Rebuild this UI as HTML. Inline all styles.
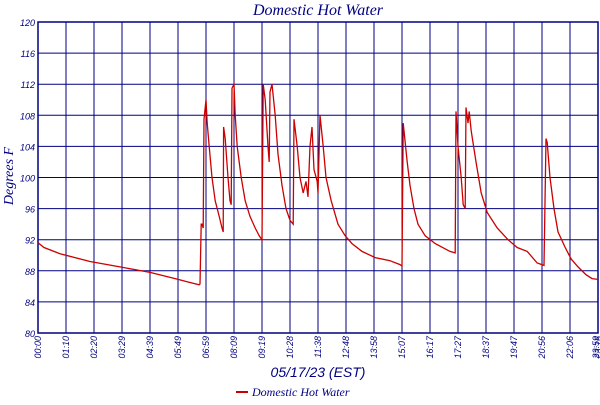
<!DOCTYPE html>
<html><head><meta charset="utf-8"><style>
body{margin:0;background:#fff;width:600px;height:400px;overflow:hidden}
svg{font-family:"Liberation Sans",sans-serif;font-style:italic}
</style></head><body>
<svg id="chart" width="600" height="400">
<text x="318" y="15" text-anchor="middle" font-size="16" fill="#000080" font-family="Liberation Serif">Domestic Hot Water</text>
<text transform="translate(13,176) rotate(-90)" text-anchor="middle" font-size="14" fill="#000080" font-family="Liberation Serif">Degrees F</text>
<text x="318" y="377" text-anchor="middle" font-size="14" fill="#000080">05/17/23 (EST)</text>
<g>
<line x1="236" y1="392" x2="248" y2="392" stroke="#cc0000" stroke-width="2"/>
<text x="252" y="396" font-size="12" fill="#000080" font-family="Liberation Serif">Domestic Hot Water</text>
</g>
<g id="grid"></g><g id="ylab"></g><g id="xlab"></g><g id="series"></g>
</svg>
<script>
const yTicks=[80,84,88,92,96,100,104,108,112,116,120];
const xTickLabels=["00:00","01:10","02:20","03:29","04:39","05:49","06:59","08:09","09:19","10:28","11:38","12:48","13:58","15:07","16:17","17:27","18:37","19:47","20:56","22:06","23:16"];
const times=[0,15,55,130,205,280,343,380,403,405,408,410,413,415,420,423,428,435,443,453,460,463,464,468,475,480,483,485,490,493,498,508,518,530,543,553,560,563,568,575,578,580,585,593,600,610,620,630,638,640,648,655,663,670,675,680,685,690,698,700,705,713,720,733,750,768,785,810,843,880,905,910,913,915,923,930,940,950,968,993,1030,1043,1045,1050,1058,1063,1068,1070,1075,1078,1083,1095,1108,1123,1148,1175,1198,1223,1248,1265,1270,1273,1280,1290,1300,1318,1333,1350,1370,1385,1400];
const temps=[91.6,91,90.2,89.2,88.5,87.8,87,86.5,86.2,86.3,94,94,93.5,107.5,110,107,104,100,97,95,93.5,93,106.5,105,100,97,96.5,111.5,112,108,104,100,97,95,93.5,92.5,92,112,110,104,102,111,112,108,103,99,96,94.5,94,107.5,104,100,98,99.5,97.5,104,106.5,101,99.5,98,108,104,100,97,94,92.5,91.5,90.5,89.7,89.3,88.8,88.6,107,106,102,99,96,94,92.5,91.5,90.5,90.3,108.5,104,100,96.5,96,109,107,108.5,106,102,98,95.5,93.5,92,91,90.5,89,88.7,105,104.5,100,96,93,91,89.5,88.5,87.5,87,86.9];
const L=38,R=598,T=22,B=333,NS="http://www.w3.org/2000/svg";
const xs=t=>L+t/1400*(R-L), ys=v=>B-(v-80)/40*(B-T);
const grid=document.getElementById('grid'),ylab=document.getElementById('ylab'),xlab=document.getElementById('xlab'),series=document.getElementById('series');
function mk(tag,at,parent){const e=document.createElementNS(NS,tag);for(const k in at)e.setAttribute(k,at[k]);parent.appendChild(e);return e;}
yTicks.forEach(v=>{
 const l=mk('line',{x1:L,x2:R,y1:ys(v),y2:ys(v),stroke:'#000080','stroke-width':1},grid);
 
 
 const t=mk('text',{x:35,y:ys(v)+4,'text-anchor':'end','font-size':9,fill:'#000080'},ylab);
 t.textContent=v;
 
 
});
const step=(R-L)/20;
for(let i=0;i<=20;i++){
 const x=L+i*step;
 const l=mk('line',{x1:x,x2:x,y1:T,y2:B,stroke:'#000080','stroke-width':1},grid);
 
 
}
xTickLabels.forEach((s,i)=>{
 const x=L+i*step;
 const t=mk('text',{transform:`translate(${x+3},336) rotate(-90)`,'text-anchor':'end','font-size':9,fill:'#000080'},xlab);
 t.textContent=s;
 
 
});
const e=mk('text',{transform:`translate(${R+1},336) rotate(-90)`,'text-anchor':'end','font-size':9,fill:'#000080'},xlab);
e.textContent="23:59";


mk('rect',{x:L,y:T,width:R-L,height:B-T,fill:'none',stroke:'#000080','stroke-width':1.5},grid);
const pts=times.map((t,i)=>xs(t).toFixed(1)+','+ys(temps[i]).toFixed(1)).join(' ');
const pl=mk('polyline',{points:pts,fill:'none',stroke:'#cc0000','stroke-width':1.3},series);


</script>
</body></html>
